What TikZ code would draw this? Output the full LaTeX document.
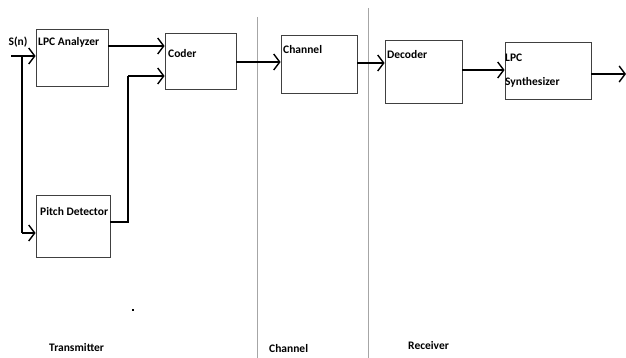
\documentclass[tikz,border=0pt]{standalone}
\usepackage{fontspec}
\setmainfont{Carlito}
\usetikzlibrary{arrows.meta}
\begin{document}
\begin{tikzpicture}[x=1pt,y=-1pt,
  blk/.style={rectangle,draw=black!75,line width=0.8pt,inner sep=0pt},
  txt/.style={inner sep=0pt,anchor=west,font=\fontsize{11.5}{12}\selectfont\bfseries},
  conn/.style={line width=2pt,-{Straight Barb[length=6pt,width=16pt,line width=1.4pt]}},
  wire/.style={line width=2pt},
  sep/.style={draw=black!35,line width=1pt}]
\useasboundingbox (0,0) rectangle (626,358);
% boxes
\node[blk,minimum width=72pt,minimum height=57pt] (lpc) at (72,57.5) {};
\node[blk,minimum width=71pt,minimum height=56pt] (coder) at (200.5,61) {};
\node[blk,minimum width=74pt,minimum height=62pt] (pitch) at (73,226) {};
\node[blk,minimum width=76pt,minimum height=58pt] (chan) at (319,64) {};
\node[blk,minimum width=77pt,minimum height=63pt] (dec) at (423.5,71.5) {};
\node[blk,minimum width=86pt,minimum height=57pt] (syn) at (548,70.5) {};
% texts
\node[txt] (tsn) at (8.5,42) {S(n)};
\node[txt] (tlpc) at (38,42) {LPC Analyzer};
\node[txt] (tcod) at (168,54) {Coder};
\node[txt] (tpit) at (40,212) {Pitch Detector};
\node[txt] (tch) at (283,50) {Channel};
\node[txt] (tdec) at (387,55) {Decoder};
\node[txt] (tsyn1) at (505,58) {LPC};
\node[txt] (tsyn2) at (505,82) {Synthesizer};
\node[txt] (ltx) at (49,348) {Transmitter};
\node[txt] (lch) at (269,349) {Channel};
\node[txt] (lrx) at (408,346) {Receiver};
\node[fill=black,inner sep=0pt,minimum size=2pt] (dot) at (133,310) {};
% separators
\coordinate (s1t) at (257,17); \coordinate (s1b) at (257,358);
\coordinate (s2t) at (368,8); \coordinate (s2b) at (368,358);
\draw[sep] (s1t) -- (s1b);
\draw[sep] (s2t) -- (s2b);
% connectors
\coordinate (in) at (11,56);
\coordinate (br) at (22,56);
\coordinate (out) at (626,74);
\draw[conn] (in) -- (lpc.west |- in);
\draw[wire] (br) -- (br |- 0,233);
\draw[conn] (br |- 0,233) -- (pitch.west |- 0,233);
\draw[conn] (lpc.east |- 0,46) -- (coder.west |- 0,46);
\draw[wire] (pitch.east |- 0,222) -- (128,222) -- (128,76);
\draw[conn] (128,76) -- (coder.west |- 0,76);
\draw[conn] (coder.east |- 0,62) -- (chan.west |- 0,62);
\draw[conn] (chan.east |- 0,63) -- (dec.west |- 0,63);
\draw[conn] (dec.east |- 0,70) -- (syn.west |- 0,70);
\draw[conn] (syn.east |- out) -- (out);
\end{tikzpicture}
\end{document}
